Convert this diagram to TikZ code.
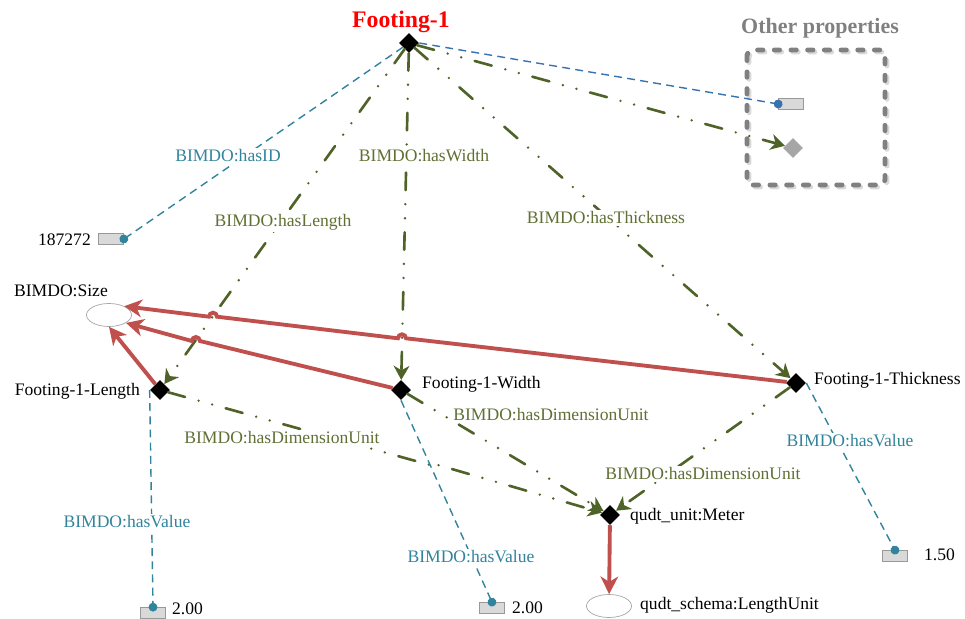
\documentclass[tikz,border=0pt]{standalone}
\usepackage{fontspec}
\setmainfont{Liberation Serif}
\usetikzlibrary{arrows.meta,shapes.geometric}
\definecolor{isared}{RGB}{192,80,77}
\definecolor{propgreen}{RGB}{79,98,40}
\definecolor{proptext}{RGB}{96,112,52}
\definecolor{valteal}{RGB}{49,132,155}
\definecolor{otherblue}{RGB}{55,115,175}
\definecolor{litgray}{RGB}{217,217,217}
\definecolor{boxgray}{RGB}{128,128,128}
\begin{document}
\begin{tikzpicture}[x=0.02cm, y=-0.02cm,
		every node/.style={font=\fontsize{10}{12}\selectfont},
		inst/.style={diamond, fill=black, inner sep=0pt, minimum size=0.4cm},
		cls/.style={ellipse, draw=gray!70, fill=white, inner sep=0pt, minimum width=0.9cm, minimum height=0.46cm},
		lit/.style={rectangle, draw=gray!80, fill=litgray, inner sep=0pt, minimum width=0.5cm, minimum height=0.22cm},
		objprop/.style={draw=propgreen, line width=1.5pt, line cap=round,
			dash pattern=on 10pt off 8pt on 0pt off 8pt on 0pt off 8pt,
			-{Stealth[length=8pt, width=9pt, inset=2.5pt]}},
		datprop/.style={draw=valteal, line width=0.8pt, dash pattern=on 4.5pt off 3pt,
			-{Circle[length=5pt]}, shorten >=-2.5pt},
		isa/.style={draw=isared, line width=2.2pt, -{Stealth[length=10pt, width=10pt, inset=3pt]}},
		elabel/.style={fill=white, inner sep=1pt}]
		\useasboundingbox (0,0) rectangle (965,619);
		%draw other properties box
		\draw [gray!30, line width=2.8pt, line cap=round, dash pattern=on 3pt off 6.5pt, rounded corners=3pt] (749,52) rectangle (887,187);
		\draw [boxgray, line width=2.8pt, line cap=round, dash pattern=on 3pt off 6.5pt, rounded corners=3pt] (747,50) rectangle (885,185);
		\node[font=\fontsize{12.5}{15}\selectfont\bfseries, text=boxgray] (op-lbl) at (820,28) {Other properties};
		\node[lit] (op-lit) at (791,104) {};
		\node[diamond, fill=gray!70, inner sep=0pt, minimum size=0.4cm] (op-obj) at (793,148) {};
		%draw instances and classes
		\node[inst] (footing) at (409,43) {};
		\node[font=\fontsize{13.5}{16}\selectfont\bfseries, text=red] (footing-lbl) at (401,22) {Footing-1};
		\node[inst] (len) at (160,390) {};
		\node[anchor=east] (len-lbl) at (146,391) {Footing-1-Length};
		\node[inst] (wid) at (401,390) {};
		\node[anchor=west] (wid-lbl) at (416,384) {Footing-1-Width};
		\node[inst] (thick) at (796,383) {};
		\node[anchor=west] (thick-lbl) at (808,380) {Footing-1-Thickness};
		\node[inst] (meter) at (610,515) {};
		\node[anchor=west] (meter-lbl) at (624,516) {qudt\_unit:Meter};
		\node[cls] (size) at (109,315) {};
		\node (size-lbl) at (61,291) {BIMDO:Size};
		\node[cls] (lenunit) at (609,606) {};
		\node[anchor=west] (lenunit-lbl) at (634,605) {qudt\_schema:LengthUnit};
		%draw literals
		\node[lit] (lit-id) at (111,239) {};
		\node[anchor=east] (lit-id-lbl) at (97,240) {187272};
		\node[lit] (v-len) at (153,613) {};
		\node[anchor=west] (v-len-lbl) at (166,609) {2.00};
		\node[lit] (v-wid) at (492,608) {};
		\node[anchor=west] (v-wid-lbl) at (506,608) {2.00};
		\node[lit] (v-thick) at (895,556) {};
		\node[anchor=west] (v-thick-lbl) at (918,555) {1.50};
		%draw object properties
		\draw [objprop] (footing) -- (len);
		\draw [objprop] (footing) -- (wid);
		\draw [objprop] (footing) -- (thick);
		\draw [objprop] (footing) -- (op-obj);
		\draw [objprop] (len) -- (429,464.7) arc[start angle=180, end angle=360, radius=4] -- (meter);
		\draw [objprop] (wid) -- (meter);
		\draw [objprop] (thick) -- (meter);
		%draw datatype properties
		\draw [datprop] (footing) -- (lit-id.east);
		\draw [datprop, draw=otherblue] (footing.east) -- (op-lit.west);
		\draw [datprop] (len.west) -- (v-len.north);
		\draw [datprop] (wid.south) -- (v-wid.north);
		\draw [datprop] (thick.east) -- (v-thick.north);
		%draw types
		\draw [isa] (thick) -- (406,338.3) arc[start angle=0, end angle=-180, radius=4]
			-- (217,316.7) arc[start angle=0, end angle=-180, radius=4] -- (size.30);
		\draw [isa] (wid) -- (199.9,341) arc[start angle=0, end angle=-180, radius=4] -- (size.-25);
		\draw [isa] (len) -- (size.south);
		\draw [isa] (meter) -- (lenunit);
		%draw labels
		\node[elabel, text=valteal] (l-id) at (228,156) {BIMDO:hasID};
		\node[elabel, text=proptext] (l-len) at (283,222) {BIMDO:hasLength};
		\node[elabel, text=proptext] (l-wid) at (424,156) {BIMDO:hasWidth};
		\node[elabel, text=proptext] (l-thick) at (606,218) {BIMDO:hasThickness};
		\node[elabel, text=proptext] (l-lenunit) at (282,438) {BIMDO:hasDimensionUnit};
		\node[elabel, text=proptext] (l-widunit) at (551,415) {BIMDO:hasDimensionUnit};
		\node[elabel, text=proptext] (l-thickunit) at (703,474) {BIMDO:hasDimensionUnit};
		\node[elabel, text=valteal] (l-lenval) at (127,522) {BIMDO:hasValue};
		\node[elabel, text=valteal] (l-widval) at (471,557) {BIMDO:hasValue};
		\node[elabel, text=valteal] (l-thickval) at (850,441) {BIMDO:hasValue};
	\end{tikzpicture}
\end{document}
